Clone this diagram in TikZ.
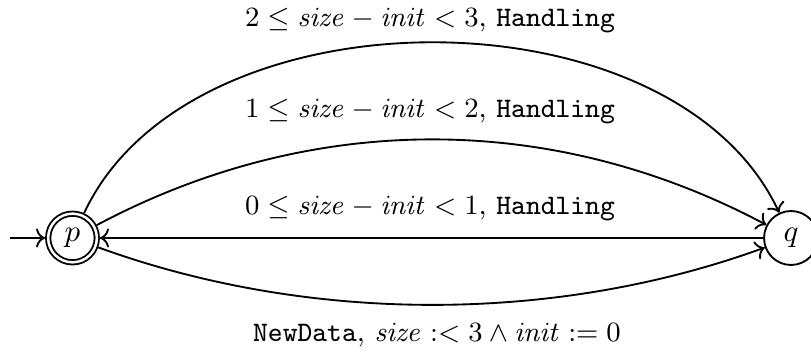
\documentclass[tikz,border=0pt]{standalone}
\usetikzlibrary{arrows.meta}
\begin{document}
\begin{tikzpicture}[x=0.3226pt,y=0.3226pt, line width=0.6pt,
  statenode/.style={circle, draw, inner sep=0pt},
  lbl/.style={anchor=base, inner sep=0pt, font=\fontsize{9.1pt}{11pt}\selectfont},
  edge/.style={->}]
\useasboundingbox (0,0) rectangle (811,352);
\node[statenode, double, double distance=0.8pt, minimum size=15.7pt, outer sep=1pt] (p) at (72.5,114) {$p$};
\node[statenode, minimum size=17.4pt, outer sep=0.3pt] (q) at (791,114) {$q$};
\coordinate (init) at (10,114);
\draw[edge] (init) -- (p);
\draw[edge] (p) to[out=65, in=115, looseness=0.925] (q);
\draw[edge] (p) to[out=28, in=152, looseness=0.93] (q);
\draw[edge] (q) -- (p);
\draw[edge] (p) to[out=-20, in=200, looseness=0.86] (q);
\node[lbl] (l2) at (430,325) {$2 \leq \mathit{size} - \mathit{init} < 3$, \texttt{Handling}};
\node[lbl] (l1) at (430,234) {$1 \leq \mathit{size} - \mathit{init} < 2$, \texttt{Handling}};
\node[lbl] (l0) at (430,137) {$0 \leq \mathit{size} - \mathit{init} < 1$, \texttt{Handling}};
\node[lbl] (l3) at (437,10) {\texttt{NewData}, $\mathit{size} :< 3 \land \mathit{init} := 0$};
\end{tikzpicture}
\end{document}
